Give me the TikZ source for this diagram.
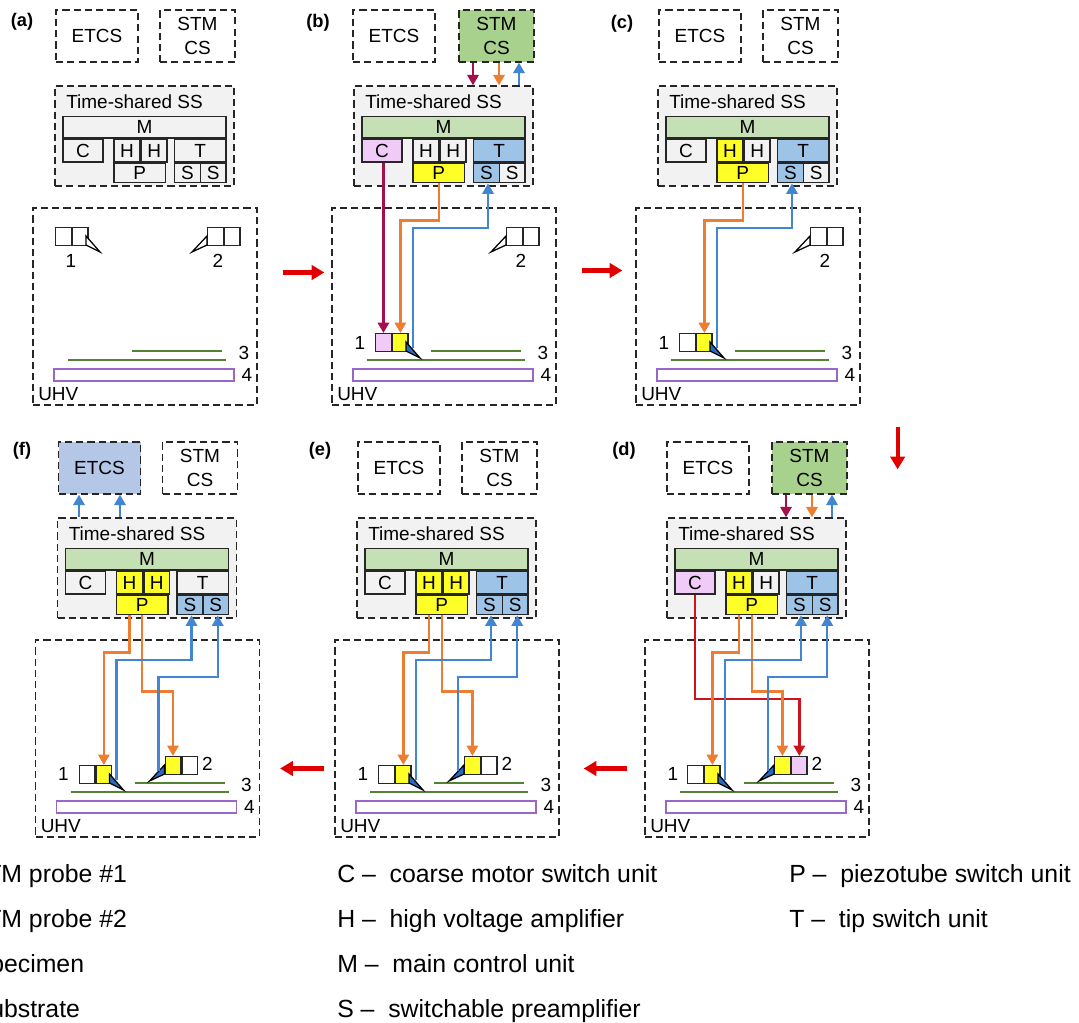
\documentclass[tikz,border=0pt]{standalone}
\usepackage{xcolor}
\usepackage{fontspec}
\setmainfont{Liberation Sans}
\usepackage{tikz}
\usetikzlibrary{arrows.meta, positioning}
\definecolor{hsgray}{RGB}{242, 242, 242}
\definecolor{stmgreen}{RGB}{169, 209, 142}
\definecolor{maingreen}{RGB}{197, 224, 180}
\definecolor{etcsblue}{RGB}{180, 199, 231}
\definecolor{unitblue}{RGB}{157, 195, 230}
\definecolor{unitpink}{RGB}{240, 203, 247}
\definecolor{unityellow}{RGB}{255, 255, 40}
\definecolor{wirecrimson}{RGB}{165, 15, 75}
\definecolor{wireorange}{RGB}{237, 125, 49}
\definecolor{wireblue}{RGB}{66, 133, 208}
\definecolor{wirered}{RGB}{205, 20, 30}
\definecolor{tipblue}{RGB}{42, 107, 192}
\definecolor{linegreen}{RGB}{84, 130, 53}
\definecolor{subpurple}{RGB}{153, 102, 204}
\definecolor{bigred}{RGB}{224, 0, 0}
\newcommand{\pxu}{0.025cm}
\tikzset{
	dims/.style 2 args={minimum width=#1*\pxu, minimum height=#2*\pxu},
	csbox/.style={rectangle, draw=black!85, dashed, dash pattern=on 5pt off 3pt, line width=0.9pt, inner sep=0pt, align=center, font=\fontsize{13.5}{17}\selectfont},
	unitbox/.style={rectangle, draw=black!85, line width=1.1pt, inner sep=0pt, font=\fontsize{13.5}{15}\selectfont},
	probebox/.style={rectangle, draw=black!85, line width=1pt, inner sep=0pt, dims={15.5}{18}, anchor=north west},
	txt/.style={inner sep=0pt, font=\fontsize{13.5}{15}\selectfont},
	tag/.style={inner sep=0pt, font=\fontsize{13}{15}\selectfont\bfseries},
	legend/.style={inner sep=0pt, anchor=base west, font=\fontsize{17.65}{20}\selectfont},
	wire/.style={line width=1.7pt, -{Triangle[length=2.6mm, width=2.8mm]}},
	crimsonwire/.style={wire, draw=wirecrimson},
	orangewire/.style={wire, draw=wireorange},
	bluewire/.style={wire, draw=wireblue},
	redwire/.style={wire, draw=wirered},
	bigarrow/.style={draw=bigred, line width=2.9pt, -{Triangle[length=3.2mm, width=3.6mm]}},
	% fills of one panel, overridden in the scope of that panel
	etcsfill/.style={},
	stmfill/.style={},
	unitM/.style={fill=hsgray},
	unitC/.style={fill=hsgray},
	unitHa/.style={fill=hsgray},
	unitHb/.style={fill=hsgray},
	unitP/.style={fill=hsgray},
	unitT/.style={fill=hsgray},
	unitSa/.style={fill=hsgray},
	unitSb/.style={fill=hsgray},
	probeAa/.style={fill=white},
	probeAb/.style={fill=white},
	probeBa/.style={fill=white},
	probeBb/.style={fill=white},
	tipAfill/.style={fill=white},
	tipBfill/.style={fill=white}
}
% the boxes that every panel has
\newcommand{\panelbase}{
	\node[csbox, dims={82}{52}, etcsfill] (ETCS) at (97,36) {ETCS};
	\node[csbox, dims={75}{52}, stmfill] (STM) at (197.5,36) {STM\\CS};
	\node[csbox, dims={179}{100}, fill=hsgray] (SS) at (144.5,136) {};
	\node[txt, anchor=west] (SStext) at (66,102) {Time-shared SS};
	\node[unitbox, dims={163}{21.5}, unitM] (M) at (144.5,127.25) {M};
	\node[unitbox, dims={40}{22.5}, anchor=north west, unitC] (C) at (M.south west) {C};
	\node[unitbox, dims={26}{22.5}, anchor=north west, unitHa] (Ha) at ([xshift=51*\pxu]M.south west) {H};
	\node[unitbox, dims={25.5}{22.5}, anchor=north west, unitHb] (Hb) at (Ha.north east) {H};
	\node[unitbox, dims={51.5}{19}, anchor=north west, unitP] (P) at (Ha.south west) {P};
	\node[unitbox, dims={51.5}{22.5}, anchor=north east, unitT] (T) at (M.south east) {T};
	\node[unitbox, dims={26}{19}, anchor=north west, unitSa] (Sa) at (T.south west) {S};
	\node[unitbox, dims={25.5}{19}, anchor=north east, unitSb] (Sb) at (T.south east) {S};
	\node[csbox, dims={224}{197}] (UHV) at (145,306.5) {};
	\node[txt, anchor=west] (UHVtext) at (38,394) {UHV};
	\node[rectangle, draw=subpurple, line width=1.1pt, fill=white, dims={180}{12}] (sub) at (144,375) {};
	\coordinate (lowA) at (68,360);
	\coordinate (lowB) at (226,360);
	\coordinate (upA) at (132,351);
	\coordinate (upB) at (222,351);
	\draw[linegreen, line width=0.9pt] (lowA) -- (lowB);
	\draw[linegreen, line width=0.9pt] (upA) -- (upB);
	\node[txt] (three) at (244,353) {3};
	\node[txt] (four) at (247,375) {4};
}
% x, y of the probe, x, y of its number
\newcommand{\probeone}[4]{
	\node[probebox, probeAa] (pAa) at (#1,#2) {};
	\node[probebox, probeAb] (pAb) at (pAa.north east) {};
	\coordinate (tipA) at ({#1+38},{#2+15});
	\draw[draw=black, line width=0.9pt, line join=miter, tipAfill] ({#1+31},{#2+9}) -- ({#1+45},{#2+25}) -- ({#1+31},{#2+18}) -- cycle;
	\node[txt] (numA) at (#3,#4) {1};
}
\newcommand{\probetwo}[4]{
	\node[probebox, probeBa] (pBa) at (#1,#2) {};
	\node[probebox, probeBb] (pBb) at (pBa.north east) {};
	\coordinate (tipB) at ({#1-6},{#2+15});
	\draw[draw=black, line width=0.9pt, line join=miter, tipBfill] ({#1},{#2+9}) -- ({#1-15},{#2+25}) -- ({#1},{#2+18}) -- cycle;
	\node[txt] (numB) at (#3,#4) {2};
}
\begin{document}
\begin{tikzpicture}[x=0.025cm, y=-0.025cm]
	\clip (0,0) rectangle (1079,1023);
	\useasboundingbox (0,0) rectangle (1079,1023);
	
	% Panel a
	\begin{scope}[name prefix=a-]
		\panelbase
		\node[tag] (tag) at (22,22) {(a)};
		\probeone{55}{227}{71}{261}
		\probetwo{207}{227}{218}{261}
	\end{scope}
	
	% Panel b
	\begin{scope}[shift={(299,0)}, name prefix=b-,
		etcsfill/.style={xshift=-2*\pxu},
		stmfill/.style={fill=stmgreen}, unitM/.style={fill=maingreen}, unitC/.style={fill=unitpink},
		unitP/.style={fill=unityellow}, unitT/.style={fill=unitblue}, unitSa/.style={fill=unitblue},
		probeAa/.style={fill=unitpink}, probeAb/.style={fill=unityellow}, tipAfill/.style={fill=tipblue}]
		\panelbase
		\node[tag] (tag) at (19,23) {(b)};
		\probeone{76}{333}{61}{343}
		\probetwo{207}{227}{222}{261}
		\draw[crimsonwire] ([xshift=-23.5*\pxu]STM.south) -- ([xshift=-23.5*\pxu]STM.south |- SS.north);
		\draw[orangewire] ([xshift=2.5*\pxu]STM.south) -- ([xshift=2.5*\pxu]STM.south |- SS.north);
		\draw[bluewire] ([xshift=22.5*\pxu]STM.south |- SS.north) -- ([xshift=22.5*\pxu]STM.south);
		\draw[crimsonwire] (C.south -| pAa.north) -- (pAa.north);
		\draw[orangewire] (P.south) -- ++(0,37) -| (pAb.north);
		\draw[bluewire] (tipA) -- (tipA |- 0,228) -| ([xshift=1.5*\pxu]Sa.south);
	\end{scope}
	
	% Panel c
	\begin{scope}[shift={(603,0)}, name prefix=c-,
		unitM/.style={fill=maingreen}, unitHa/.style={fill=unityellow},
		unitP/.style={fill=unityellow}, unitT/.style={fill=unitblue}, unitSa/.style={fill=unitblue},
		probeAb/.style={fill=unityellow}, tipAfill/.style={fill=tipblue}]
		\panelbase
		\node[tag] (tag) at (19,24) {(c)};
		\probeone{76}{333}{61}{343}
		\probetwo{207}{227}{222}{261}
		\draw[orangewire] (P.south) -- ++(0,37) -| (pAb.north);
		\draw[bluewire] (tipA) -- (tipA |- 0,228) -| ([xshift=1.5*\pxu]Sa.south);
	\end{scope}
	
	% Panel d
	\begin{scope}[shift={(612,432)}, name prefix=d-,
		etcsfill/.style={xshift=-1*\pxu},
		stmfill/.style={fill=stmgreen}, unitM/.style={fill=maingreen}, unitC/.style={fill=unitpink},
		unitHa/.style={fill=unityellow}, unitP/.style={fill=unityellow}, unitT/.style={fill=unitblue},
		unitSa/.style={fill=unitblue}, unitSb/.style={fill=unitblue},
		probeAb/.style={fill=unityellow}, probeBa/.style={fill=unityellow}, probeBb/.style={fill=unitpink},
		tipAfill/.style={fill=tipblue}, tipBfill/.style={fill=tipblue}]
		\panelbase
		\node[tag] (tag) at (12,19) {(d)};
		\probeone{75}{333}{61}{342}
		\probetwo{162}{324}{205}{332}
		\draw[crimsonwire] ([xshift=-23.5*\pxu]STM.south) -- ([xshift=-23.5*\pxu]STM.south |- SS.north);
		\draw[orangewire] ([xshift=2.5*\pxu]STM.south) -- ([xshift=2.5*\pxu]STM.south |- SS.north);
		\draw[bluewire] ([xshift=22.5*\pxu]STM.south |- SS.north) -- ([xshift=22.5*\pxu]STM.south);
		\draw[redwire] (C.south) -- ++(0,104) -| (pBb.north);
		\draw[orangewire] ([xshift=-12.75*\pxu]P.south) -- ++(0,37) -| (pAb.north);
		\draw[orangewire] (P.south) -- ++(0,76) -| (pBa.north);
		\draw[bluewire] (tipA) -- (tipA |- 0,228) -| ([xshift=1.5*\pxu]Sa.south);
		\draw[bluewire] (tipB) -- (tipB |- 0,245) -| ([xshift=2*\pxu]Sb.south);
	\end{scope}
	
	% Panel e
	\begin{scope}[shift={(302,432)}, name prefix=e-,
		unitM/.style={fill=maingreen}, unitHa/.style={fill=unityellow}, unitHb/.style={fill=unityellow},
		unitP/.style={fill=unityellow}, unitT/.style={fill=unitblue},
		unitSa/.style={fill=unitblue}, unitSb/.style={fill=unitblue},
		probeAb/.style={fill=unityellow}, probeBa/.style={fill=unityellow},
		tipAfill/.style={fill=tipblue}, tipBfill/.style={fill=tipblue}]
		\panelbase
		\node[tag] (tag) at (18,19) {(e)};
		\probeone{76}{333}{61}{342}
		\probetwo{162}{324}{205}{332}
		\draw[orangewire] ([xshift=-12.75*\pxu]P.south) -- ++(0,37) -| (pAb.north);
		\draw[orangewire] (P.south) -- ++(0,76) -| (pBa.north);
		\draw[bluewire] (tipA) -- (tipA |- 0,228) -| ([xshift=1.5*\pxu]Sa.south);
		\draw[bluewire] (tipB) -- (tipB |- 0,245) -| ([xshift=2*\pxu]Sb.south);
	\end{scope}
	
	% Panel f
	\begin{scope}[shift={(2.5,432)}, name prefix=f-,
		etcsfill/.style={fill=etcsblue}, unitM/.style={fill=maingreen},
		unitHa/.style={fill=unityellow}, unitHb/.style={fill=unityellow}, unitP/.style={fill=unityellow},
		unitSa/.style={fill=unitblue}, unitSb/.style={fill=unitblue},
		probeAb/.style={fill=unityellow}, probeBa/.style={fill=unityellow},
		tipAfill/.style={fill=tipblue}, tipBfill/.style={fill=tipblue}]
		\panelbase
		\node[tag] (tag) at (19.5,19) {(f)};
		\probeone{76}{333}{61}{342}
		\probetwo{162}{324}{205}{332}
		\draw[bluewire] ([xshift=-20.5*\pxu]ETCS.south |- SS.north) -- ([xshift=-20.5*\pxu]ETCS.south);
		\draw[bluewire] ([xshift=20.5*\pxu]ETCS.south |- SS.north) -- ([xshift=20.5*\pxu]ETCS.south);
		\draw[orangewire] ([xshift=-12.75*\pxu]P.south) -- ++(0,37) -| (pAb.north);
		\draw[orangewire] (P.south) -- ++(0,76) -| (pBa.north);
		\draw[bluewire] (tipA) -- (tipA |- 0,228) -| ([xshift=1.5*\pxu]Sa.south);
		\draw[bluewire] (tipB) -- (tipB |- 0,245) -| ([xshift=2*\pxu]Sb.south);
	\end{scope}
	
	% Arrows
	\draw[bigarrow] ([xshift=25*\pxu, yshift=34*\pxu]a-UHV.east) -- ([xshift=-7*\pxu, yshift=34*\pxu]b-UHV.west);
	\draw[bigarrow] ([xshift=25*\pxu, yshift=36*\pxu]b-UHV.east) -- ([xshift=-13*\pxu, yshift=36*\pxu]c-UHV.west);
	\draw[bigarrow] ([xshift=37*\pxu, yshift=-21*\pxu]c-UHV.south east) -- ([xshift=28*\pxu, yshift=170*\pxu]d-UHV.north east);
	\draw[bigarrow] ([xshift=-17*\pxu, yshift=-30*\pxu]d-UHV.west) -- ([xshift=24*\pxu, yshift=-30*\pxu]e-UHV.east);
	\draw[bigarrow] ([xshift=-10*\pxu, yshift=-30*\pxu]e-UHV.west) -- ([xshift=20*\pxu, yshift=-30*\pxu]f-UHV.east);
	
	% Legend
	\node[legend] (leg1) at (-14,882) {TM probe \#1};
	\node[legend] (leg2) at (-14,927) {TM probe \#2};
	\node[legend] (leg3) at (-10,972) {pecimen};
	\node[legend] (leg4) at (-10,1017) {ubstrate};
	\node[legend] (legC) at (337,882) {C – ~coarse motor switch unit};
	\node[legend] (legH) at (337,927) {H – ~high voltage amplifier};
	\node[legend] (legM) at (337,972) {M – ~main control unit};
	\node[legend] (legS) at (337,1017) {S – ~switchable preamplifier};
	\node[legend] (legP) at (789,882) {P – ~piezotube switch unit};
	\node[legend] (legT) at (789,927) {T – ~tip switch unit};
\end{tikzpicture}
\end{document}
